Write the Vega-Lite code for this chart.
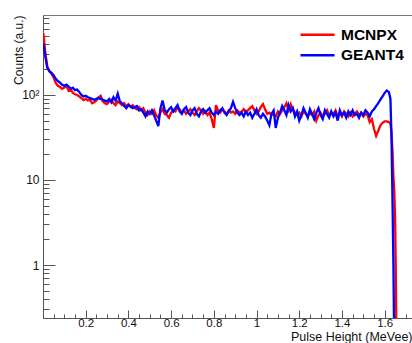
{
  "$schema": "https://vega.github.io/schema/vega-lite/v6.json",
  "autosize": {"type": "none"},
  "width": 369,
  "height": 303,
  "padding": {"left": 43, "top": 15, "right": 0, "bottom": 25},
  "config": {
    "font": "Liberation Sans",
    "view": {"stroke": "#777777", "strokeWidth": 1},
    "axis": {"grid": false, "domainColor": "#555555", "tickColor": "#555555", "labelColor": "#111111", "titleColor": "#111111", "labelFontSize": 12, "titleFontWeight": "normal"}
  },
  "data": {"values": [
    {"x":0.002,"MCNPX":530,"GEANT4":400},{"x":0.01,"MCNPX":330,"GEANT4":290},{"x":0.02,"MCNPX":215,"GEANT4":210},{"x":0.03,"MCNPX":190,"GEANT4":190},{"x":0.04,"MCNPX":178,"GEANT4":182},
    {"x":0.05,"MCNPX":160,"GEANT4":170},{"x":0.06,"MCNPX":138,"GEANT4":155},{"x":0.07,"MCNPX":128,"GEANT4":145},{"x":0.08,"MCNPX":124,"GEANT4":140},{"x":0.09,"MCNPX":118,"GEANT4":132},
    {"x":0.10,"MCNPX":122,"GEANT4":128},{"x":0.11,"MCNPX":128,"GEANT4":132},{"x":0.12,"MCNPX":112,"GEANT4":126},{"x":0.13,"MCNPX":116,"GEANT4":118},{"x":0.14,"MCNPX":106,"GEANT4":122},
    {"x":0.15,"MCNPX":102,"GEANT4":114},{"x":0.16,"MCNPX":100,"GEANT4":116},{"x":0.17,"MCNPX":96,"GEANT4":108},{"x":0.18,"MCNPX":92,"GEANT4":100},{"x":0.19,"MCNPX":87,"GEANT4":96},
    {"x":0.20,"MCNPX":90,"GEANT4":98},{"x":0.21,"MCNPX":86,"GEANT4":94},{"x":0.22,"MCNPX":88,"GEANT4":92},{"x":0.23,"MCNPX":80,"GEANT4":90},{"x":0.24,"MCNPX":82,"GEANT4":88},
    {"x":0.25,"MCNPX":86,"GEANT4":90},{"x":0.26,"MCNPX":94,"GEANT4":92},{"x":0.27,"MCNPX":98,"GEANT4":90},{"x":0.28,"MCNPX":84,"GEANT4":88},{"x":0.29,"MCNPX":80,"GEANT4":86},
    {"x":0.30,"MCNPX":78,"GEANT4":84},{"x":0.31,"MCNPX":84,"GEANT4":90},{"x":0.32,"MCNPX":88,"GEANT4":82},{"x":0.33,"MCNPX":80,"GEANT4":94},{"x":0.34,"MCNPX":76,"GEANT4":86},
    {"x":0.35,"MCNPX":84,"GEANT4":104},{"x":0.36,"MCNPX":80,"GEANT4":84},{"x":0.37,"MCNPX":76,"GEANT4":80},{"x":0.38,"MCNPX":80,"GEANT4":74},{"x":0.39,"MCNPX":74,"GEANT4":70},
    {"x":0.40,"MCNPX":78,"GEANT4":76},{"x":0.41,"MCNPX":72,"GEANT4":74},{"x":0.42,"MCNPX":76,"GEANT4":70},{"x":0.43,"MCNPX":70,"GEANT4":72},{"x":0.44,"MCNPX":68,"GEANT4":74},
    {"x":0.45,"MCNPX":72,"GEANT4":66},{"x":0.46,"MCNPX":66,"GEANT4":68},{"x":0.47,"MCNPX":70,"GEANT4":62},{"x":0.48,"MCNPX":62,"GEANT4":56},{"x":0.49,"MCNPX":58,"GEANT4":64},
    {"x":0.50,"MCNPX":64,"GEANT4":60},{"x":0.51,"MCNPX":60,"GEANT4":66},{"x":0.52,"MCNPX":66,"GEANT4":58},{"x":0.53,"MCNPX":58,"GEANT4":50},{"x":0.54,"MCNPX":54,"GEANT4":43},
    {"x":0.55,"MCNPX":62,"GEANT4":70},{"x":0.56,"MCNPX":68,"GEANT4":86},{"x":0.57,"MCNPX":60,"GEANT4":66},{"x":0.58,"MCNPX":58,"GEANT4":62},{"x":0.59,"MCNPX":54,"GEANT4":68},
    {"x":0.60,"MCNPX":62,"GEANT4":72},{"x":0.61,"MCNPX":66,"GEANT4":64},{"x":0.62,"MCNPX":64,"GEANT4":70},{"x":0.63,"MCNPX":72,"GEANT4":76},{"x":0.64,"MCNPX":68,"GEANT4":64},
    {"x":0.65,"MCNPX":62,"GEANT4":60},{"x":0.66,"MCNPX":66,"GEANT4":68},{"x":0.67,"MCNPX":60,"GEANT4":72},{"x":0.68,"MCNPX":64,"GEANT4":62},{"x":0.69,"MCNPX":68,"GEANT4":58},
    {"x":0.70,"MCNPX":62,"GEANT4":66},{"x":0.71,"MCNPX":58,"GEANT4":70},{"x":0.72,"MCNPX":64,"GEANT4":60},{"x":0.73,"MCNPX":70,"GEANT4":56},{"x":0.74,"MCNPX":66,"GEANT4":64},
    {"x":0.75,"MCNPX":60,"GEANT4":68},{"x":0.76,"MCNPX":64,"GEANT4":62},{"x":0.77,"MCNPX":58,"GEANT4":66},{"x":0.78,"MCNPX":62,"GEANT4":70},{"x":0.79,"MCNPX":52,"GEANT4":62},
    {"x":0.80,"MCNPX":41,"GEANT4":58},{"x":0.81,"MCNPX":76,"GEANT4":64},{"x":0.82,"MCNPX":66,"GEANT4":60},{"x":0.83,"MCNPX":62,"GEANT4":66},{"x":0.84,"MCNPX":68,"GEANT4":70},
    {"x":0.85,"MCNPX":64,"GEANT4":62},{"x":0.86,"MCNPX":60,"GEANT4":58},{"x":0.87,"MCNPX":66,"GEANT4":64},{"x":0.88,"MCNPX":62,"GEANT4":70},{"x":0.89,"MCNPX":64,"GEANT4":83},
    {"x":0.90,"MCNPX":60,"GEANT4":70},{"x":0.91,"MCNPX":66,"GEANT4":62},{"x":0.92,"MCNPX":62,"GEANT4":58},{"x":0.93,"MCNPX":64,"GEANT4":62},{"x":0.94,"MCNPX":68,"GEANT4":56},
    {"x":0.95,"MCNPX":62,"GEANT4":64},{"x":0.96,"MCNPX":66,"GEANT4":58},{"x":0.97,"MCNPX":70,"GEANT4":62},{"x":0.98,"MCNPX":74,"GEANT4":54},{"x":0.99,"MCNPX":66,"GEANT4":60},
    {"x":1.00,"MCNPX":60,"GEANT4":68},{"x":1.01,"MCNPX":64,"GEANT4":58},{"x":1.02,"MCNPX":72,"GEANT4":54},{"x":1.03,"MCNPX":78,"GEANT4":60},{"x":1.04,"MCNPX":68,"GEANT4":56},
    {"x":1.05,"MCNPX":60,"GEANT4":50},{"x":1.06,"MCNPX":62,"GEANT4":44},{"x":1.07,"MCNPX":58,"GEANT4":60},{"x":1.08,"MCNPX":60,"GEANT4":66},{"x":1.09,"MCNPX":56,"GEANT4":41},
    {"x":1.10,"MCNPX":64,"GEANT4":54},{"x":1.11,"MCNPX":60,"GEANT4":62},{"x":1.12,"MCNPX":66,"GEANT4":74},{"x":1.13,"MCNPX":72,"GEANT4":66},{"x":1.14,"MCNPX":80,"GEANT4":58},
    {"x":1.15,"MCNPX":66,"GEANT4":76},{"x":1.16,"MCNPX":78,"GEANT4":64},{"x":1.17,"MCNPX":68,"GEANT4":70},{"x":1.18,"MCNPX":62,"GEANT4":56},{"x":1.19,"MCNPX":58,"GEANT4":64},
    {"x":1.20,"MCNPX":62,"GEANT4":50},{"x":1.21,"MCNPX":56,"GEANT4":58},{"x":1.22,"MCNPX":64,"GEANT4":70},{"x":1.23,"MCNPX":60,"GEANT4":62},{"x":1.24,"MCNPX":56,"GEANT4":54},
    {"x":1.25,"MCNPX":62,"GEANT4":68},{"x":1.26,"MCNPX":58,"GEANT4":60},{"x":1.27,"MCNPX":64,"GEANT4":52},{"x":1.28,"MCNPX":50,"GEANT4":62},{"x":1.29,"MCNPX":58,"GEANT4":70},
    {"x":1.30,"MCNPX":62,"GEANT4":58},{"x":1.31,"MCNPX":56,"GEANT4":52},{"x":1.32,"MCNPX":60,"GEANT4":66},{"x":1.33,"MCNPX":66,"GEANT4":60},{"x":1.34,"MCNPX":58,"GEANT4":54},
    {"x":1.35,"MCNPX":62,"GEANT4":64},{"x":1.36,"MCNPX":60,"GEANT4":56},{"x":1.37,"MCNPX":66,"GEANT4":62},{"x":1.38,"MCNPX":56,"GEANT4":50},{"x":1.39,"MCNPX":62,"GEANT4":66},
    {"x":1.40,"MCNPX":56,"GEANT4":58},{"x":1.41,"MCNPX":64,"GEANT4":62},{"x":1.42,"MCNPX":60,"GEANT4":54},{"x":1.43,"MCNPX":56,"GEANT4":64},{"x":1.44,"MCNPX":62,"GEANT4":58},
    {"x":1.45,"MCNPX":56,"GEANT4":66},{"x":1.46,"MCNPX":60,"GEANT4":58},{"x":1.47,"MCNPX":64,"GEANT4":60},{"x":1.48,"MCNPX":58,"GEANT4":54},{"x":1.49,"MCNPX":62,"GEANT4":62},
    {"x":1.50,"MCNPX":56,"GEANT4":58},{"x":1.51,"MCNPX":60,"GEANT4":66},{"x":1.52,"MCNPX":58,"GEANT4":62},{"x":1.53,"MCNPX":48,"GEANT4":56},{"x":1.54,"MCNPX":52,"GEANT4":64},
    {"x":1.55,"MCNPX":40,"GEANT4":68},{"x":1.56,"MCNPX":33,"GEANT4":74},{"x":1.57,"MCNPX":38,"GEANT4":80},{"x":1.58,"MCNPX":44,"GEANT4":88},{"x":1.59,"MCNPX":47,"GEANT4":96},
    {"x":1.60,"MCNPX":49,"GEANT4":106},{"x":1.61,"MCNPX":49,"GEANT4":113},{"x":1.62,"MCNPX":48,"GEANT4":108},{"x":1.627,"MCNPX":46,"GEANT4":90},{"x":1.632,"MCNPX":36,"GEANT4":32},
    {"x":1.637,"MCNPX":21,"GEANT4":5},{"x":1.641,"MCNPX":11,"GEANT4":1.0},{"x":1.645,"MCNPX":7.5,"GEANT4":0.1},{"x":1.649,"MCNPX":3.5,"GEANT4":null},{"x":1.652,"MCNPX":0.87,"GEANT4":null},
    {"x":1.656,"MCNPX":0.1,"GEANT4":null}
  ]},
  "transform": [{"fold": ["MCNPX", "GEANT4"], "as": ["series", "counts"]}],
  "mark": {"type": "line", "strokeWidth": 2.3, "clip": true, "interpolate": "linear"},
  "encoding": {
    "x": {"field": "x", "type": "quantitative", "scale": {"domain": [0, 1.728], "nice": false, "zero": false},
      "axis": {"title": "Pulse Height (MeVee)", "titleFontSize": 12.5, "titleX": 369, "titleY": 22.3, "titleAlign": "right", "titleBaseline": "alphabetic", "titleAnchor": null,
        "values": [0.05,0.1,0.15,0.2,0.25,0.3,0.35,0.4,0.45,0.5,0.55,0.6,0.65,0.7,0.75,0.8,0.85,0.9,0.95,1,1.05,1.1,1.15,1.2,1.25,1.3,1.35,1.4,1.45,1.5,1.55,1.6,1.65,1.7],
        "labelExpr": "abs(datum.value*5 - round(datum.value*5)) < 0.001 ? format(datum.value, '.1~f') : ''",
        "tickSize": {"condition": {"test": "abs(datum.value*5 - round(datum.value*5)) < 0.001", "value": -8}, "value": -4},
        "labelFontSize": 11.5, "labelPadding": 7.5, "labelFlush": false, "labelOverlap": false}},
    "y": {"field": "counts", "type": "quantitative", "scale": {"type": "log", "domain": [0.238, 873], "nice": false},
      "axis": {"title": "Counts (a.u.)", "titleFontSize": 12, "titleAngle": 270, "titleX": -25, "titleY": 0, "titleAlign": "right", "titleBaseline": "middle", "titleAnchor": null,
        "values": [0.3,0.4,0.5,0.6,0.7,0.8,0.9,1,2,3,4,5,6,7,8,9,10,20,30,40,50,60,70,80,90,100,200,300,400,500,600,700,800],
        "labelExpr": "datum.value == 100 ? '10²' : datum.value == 10 ? '10' : datum.value == 1 ? '1' : ''",
        "tickSize": {"condition": {"test": "datum.value == 1 || datum.value == 10 || datum.value == 100", "value": -12}, "value": -6},
        "labelPadding": 16, "labelOverlap": false}},
    "color": {"field": "series", "type": "nominal", "scale": {"domain": ["MCNPX", "GEANT4"], "range": ["#ff0000", "#0000ff"]},
      "legend": {"title": null, "orient": "none", "legendX": 264.5, "legendY": 9.8, "symbolType": "M-2,0H2", "symbolSize": 289, "symbolStrokeWidth": 2.5,
        "labelFontSize": 15.5, "labelFontWeight": "bold", "labelColor": "#000000", "labelOffset": 13.5, "rowPadding": 1.4, "padding": 0}}
  }
}
